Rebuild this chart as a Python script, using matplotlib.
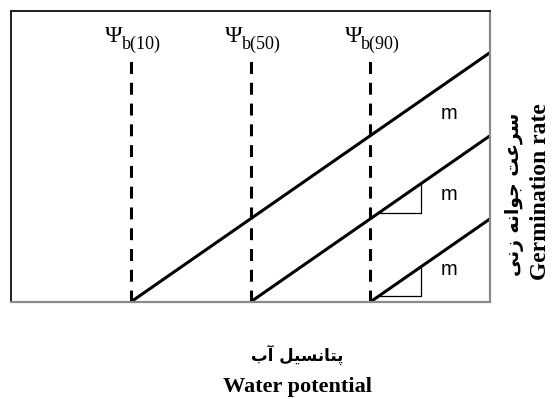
import matplotlib
matplotlib.use('Agg')
import matplotlib.pyplot as plt
import numpy as np

# base water potentials for 10, 50, 90 % germination
psi_b = [1.0, 2.0, 3.0]
psi_pct = ['10', '50', '90']
m_slope = 1.0
x_max = 4.0
y_max = 3.5
# where the "m" labels sit (y value) for each line
m_label_y = [2.27, 1.29, 0.385]
# lines that carry a slope triangle
tri_lines = [2.0, 3.0]

# persian labels, shaped by hand (presentation forms, visual order)
fa_x = '\uFE8F\uFE81 \uFEDE\uFBFF\uFEB4\uFEE7\uFE8E\uFE98\uFB58'   # پتانسیل آب
fa_y = '\uFBFD\uFEE7\uFEAF \uFEEA\uFEE7\uFE8D\uFEEE\uFE9F \uFE96\uFECB\uFEAE\uFEB3'  # سرعت جوانه زنی
en_x = 'Water potential'
en_y = 'Germination rate'

W, H = 553, 399
fig = plt.figure(figsize=(W / 100, H / 100), dpi=100)
# axes box in pixels: left 11, right 490, top 11, bottom 302
ax = fig.add_axes([11 / W, (H - 302) / H, (490 - 11) / W, (302 - 11) / H])
ax.set_xlim(0, x_max)
ax.set_ylim(0, y_max)
ax.set_xticks([])
ax.set_yticks([])
for s in ['left', 'top']:
    ax.spines[s].set_color('#1e1e1e')
    ax.spines[s].set_linewidth(1.4)
for s in ['right', 'bottom']:
    ax.spines[s].set_color('#8a8a8a')
    ax.spines[s].set_linewidth(1.6)

for pb, pct in zip(psi_b, psi_pct):
    # dashed threshold line
    ax.plot([pb, pb], [0, 2.9], color='black', lw=2.2, dashes=(3.9, 2.9),
            solid_capstyle='butt', dash_capstyle='butt', clip_on=False)
    # germination rate line
    xs = np.array([pb, x_max])
    ax.plot(xs, m_slope * (xs - pb), color='black', lw=2.2,
            solid_capstyle='butt', clip_on=False)
    # label psi_b(x)
    ax.annotate('\u03A8', xy=(pb, 2.92), xytext=(-6, 12.5), textcoords='offset points',
                ha='right', va='baseline', fontsize=17, family='Liberation Serif')
    ax.annotate('b(' + pct + ')', xy=(pb, 2.92), xytext=(-6.5, 7.5),
                textcoords='offset points', ha='left', va='baseline',
                fontsize=13, family='Liberation Serif')

for pb, my in zip(psi_b, m_label_y):
    ax.text(3.66, my, 'm', ha='center', va='center', fontsize=14.5,
            family='Liberation Sans')

# slope triangles, drawn just right of the last threshold
tx0 = psi_b[-1] + 0.072
tx1 = psi_b[-1] + 0.424
for pb in tri_lines:
    y0 = m_slope * (tx0 - pb)
    ax.plot([tx0, tx1, tx1], [y0, y0, m_slope * (tx1 - pb)], color='black', lw=0.9)

fa_font = dict(family=['DejaVu Sans'], fontweight='bold')
fig.text(297 / W, 1 - 355 / H, fa_x, ha='center', va='center', fontsize=12, **fa_font)
fig.text(297 / W, 1 - 387 / H, en_x, ha='center', va='center', fontsize=16,
         family='Liberation Serif', fontweight='bold')
fig.text(514 / W, 1 - 194 / H, fa_y, ha='center', va='center', fontsize=13.5,
         rotation=90, **fa_font)
fig.text(541 / W, 1 - 192 / H, en_y, ha='center', va='center', fontsize=17,
         rotation=90, family='Liberation Serif', fontweight='bold')

fig.savefig('out.png', dpi=100)
